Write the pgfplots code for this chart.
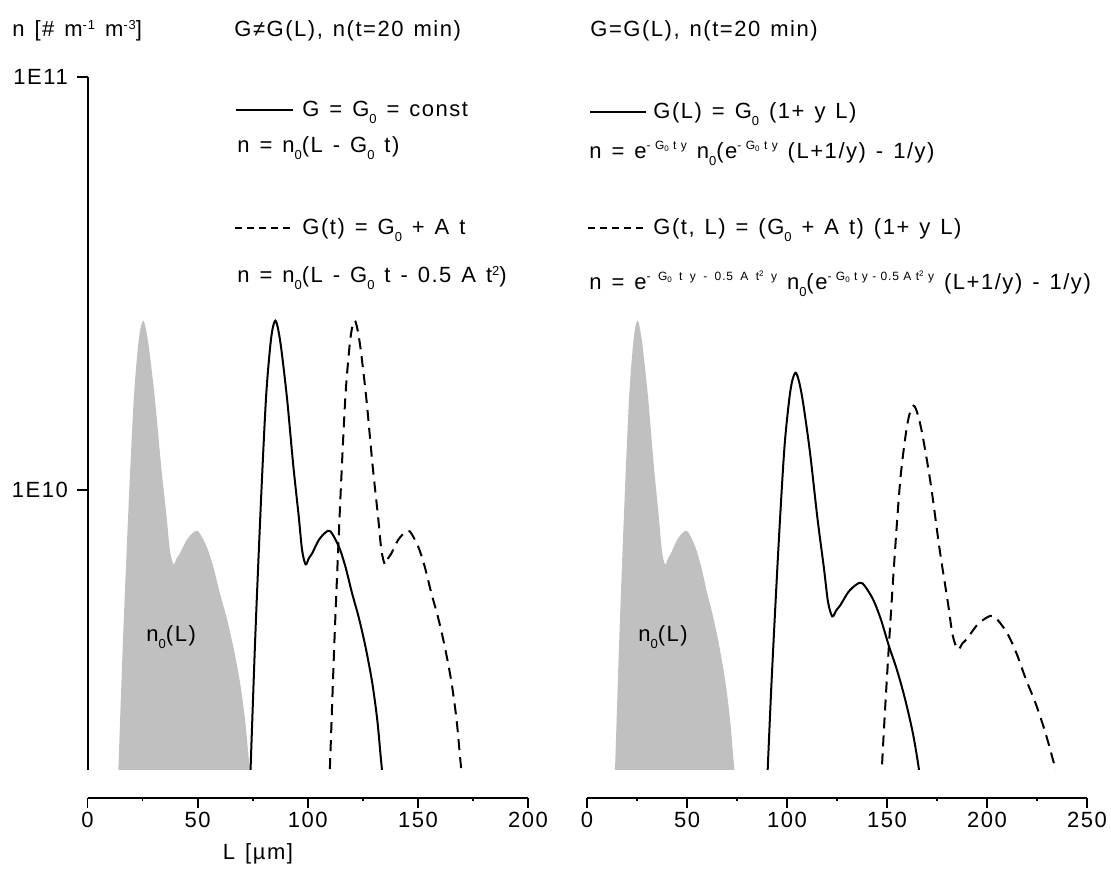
\documentclass[border=0pt]{standalone}
\usepackage{fontspec}
\setmainfont{Liberation Sans}[LetterSpace=7, WordSpace=1.3]
\usepackage{pgfplots}
\pgfplotsset{compat=1.18}
\usepackage{pgfplotstable}

\definecolor{nzero}{RGB}{192,192,192}

\newcommand\tf{\fontsize{11}{13}\selectfont}
\newcommand\sub[1]{\raisebox{-3.2pt}{\fontsize{6.5}{7}\selectfont #1}}
\newcommand\sups[1]{\raisebox{3.6pt}{\fontsize{6.5}{7}\selectfont #1}}
\newcommand\ex[1]{\raisebox{4.6pt}{\fontsize{6}{7}\selectfont #1}}
\newcommand\exsub[1]{\raisebox{-1.1pt}{\fontsize{4}{5}\selectfont #1}}
\newcommand\exsup[1]{\raisebox{2.3pt}{\fontsize{4}{5}\selectfont #1}}
\newcommand\g{\hspace{2.2pt}}
\newcommand\G{\hspace{3.7pt}}

% initial distribution n0(L)
\pgfplotstableread{
L n
12.8 1.413e9
14.0 2.099e9
16.2 4.467e9
18.8 9.550e9
21.0 1.660e10
22.8 2.188e10
24.0 2.455e10
25.3 2.570e10
26.5 2.455e10
28.0 2.188e10
30.6 1.660e10
33.4 1.148e10
35.9 8.610e9
37.4 7.161e9
39.0 6.607e9
40.5 6.839e9
42.0 7.031e9
45.0 7.568e9
48.0 7.889e9
50.3 7.943e9
54.1 7.295e9
57.1 6.516e9
60.1 5.623e9
63.2 4.898e9
66.2 4.169e9
69.2 3.428e9
71.5 2.786e9
73.0 2.291e9
74.2 1.950e9
75.3 1.585e9
}\initial

% G = G0 = const, t = 20 min
\pgfplotstableread{
L n
72.8 1.413e9
74.0 2.099e9
76.2 4.467e9
78.8 9.550e9
81.0 1.660e10
82.8 2.188e10
84.0 2.455e10
85.3 2.570e10
86.5 2.455e10
88.0 2.188e10
90.6 1.660e10
93.4 1.148e10
95.9 8.610e9
97.4 7.161e9
99.0 6.607e9
100.5 6.839e9
102.0 7.031e9
105.0 7.568e9
108.0 7.889e9
110.3 7.943e9
114.1 7.295e9
117.1 6.516e9
120.1 5.623e9
123.2 4.898e9
126.2 4.169e9
129.2 3.428e9
131.5 2.786e9
133.0 2.291e9
134.2 1.950e9
135.3 1.585e9
}\constG

% G(t) = G0 + A t, t = 20 min
\pgfplotstableread{
L n
108.8 1.413e9
110.0 2.099e9
112.2 4.467e9
114.8 9.550e9
117.0 1.660e10
118.8 2.188e10
120.0 2.455e10
121.3 2.570e10
122.5 2.455e10
124.0 2.188e10
126.6 1.660e10
129.4 1.148e10
131.9 8.610e9
133.4 7.161e9
135.0 6.607e9
136.5 6.839e9
138.0 7.031e9
141.0 7.568e9
144.0 7.889e9
146.3 7.943e9
150.1 7.295e9
153.1 6.516e9
156.1 5.623e9
159.2 4.898e9
162.2 4.169e9
165.2 3.428e9
167.5 2.786e9
169.0 2.291e9
170.2 1.950e9
171.3 1.585e9
}\timeG

% G(L) = G0 (1 + y L), t = 20 min
\pgfplotstableread{
L n
87.61 1.057e9
89.22 1.570e9
92.16 3.342e9
95.64 7.145e9
98.58 1.242e10
100.98 1.637e10
102.59 1.837e10
104.33 1.923e10
105.93 1.837e10
107.94 1.637e10
111.41 1.242e10
115.16 8.590e9
118.50 6.442e9
120.50 5.358e9
122.64 4.943e9
124.65 5.117e9
126.65 5.260e9
130.67 5.662e9
134.68 5.902e9
137.75 5.943e9
142.83 5.458e9
146.84 4.875e9
150.85 4.207e9
155.00 3.664e9
159.01 3.119e9
163.02 2.564e9
166.10 2.084e9
168.10 1.714e9
169.71 1.459e9
171.18 1.186e9
}\sizeG

% G(t,L) = (G0 + A t)(1 + y L), t = 20 min
\pgfplotstableread{
L n
143.27 8.79e8
145.20 1.306e9
148.73 2.780e9
152.91 5.943e9
156.45 1.033e10
159.34 1.361e10
161.27 1.528e10
163.36 1.600e10
165.29 1.528e10
167.70 1.361e10
171.87 1.033e10
176.37 7.145e9
180.39 5.358e9
182.80 4.457e9
185.37 4.111e9
187.78 4.256e9
190.19 4.375e9
195.02 4.710e9
199.84 4.909e9
203.53 4.943e9
209.64 4.539e9
214.46 4.055e9
219.28 3.499e9
224.26 3.048e9
229.08 2.594e9
233.90 2.133e9
237.60 1.734e9
240.01 1.426e9
241.94 1.213e9
243.71 9.86e8
}\sizetimeG

\tikzset{
  solidcurve/.style={black, line width=1pt, smooth},
  dashcurve/.style={black, line width=1pt, smooth, dash pattern=on 5.5pt off 3.5pt},
  nzerofill/.style={draw=none, fill=nzero, smooth},
}

\begin{document}
\begin{tikzpicture}
\useasboundingbox (0,0) rectangle (555.5pt,434pt);

% left panel: G independent of L
\begin{axis}[scale only axis, anchor=south west, ymode=log,
    ymin=2.1e9, ymax=1e11, height=346.5pt,
    at={(43.75pt,49pt)}, width=220.3pt, xmin=0, xmax=200,
    axis y line*=left, axis x line=none, axis line style={line width=1pt},
    ytick=\empty,
    minor ytick={3e9,4e9,5e9,6e9,7e9,8e9,9e9,2e10,3e10,4e10,5e10,6e10,7e10,8e10,9e10},
    tick align=inside, minor tick length=1.5pt,
    tick style={black, line width=0.9pt},
    extra y ticks={1e10,1e11}, extra y tick labels={1E10,1E11},
    extra y tick style={tick align=outside, major tick length=5.3pt},
    yticklabel style={font=\tf, xshift=-1pt}]
  \addplot[nzerofill] table {\initial};
  \addplot[solidcurve] table {\constG};
  \addplot[dashcurve] table {\timeG};
  \node[font=\tf] at (38,4.4e9) {n\sub{0}(L)};
\end{axis}

% right panel: size-dependent growth
\begin{axis}[scale only axis, anchor=south west, ymode=log,
    ymin=2.1e9, ymax=1e11, height=346.5pt,
    at={(293.5pt,49pt)}, width=250pt, xmin=0, xmax=250, hide axis]
  \addplot[nzerofill] table {\initial};
  \addplot[solidcurve] table {\sizeG};
  \addplot[dashcurve] table {\sizetimeG};
  \node[font=\tf] at (38,4.4e9) {n\sub{0}(L)};
\end{axis}

% offset L axes
\begin{axis}[scale only axis, anchor=south west, height=5pt,
    ymin=0, ymax=1, axis x line*=bottom, axis y line=none,
    tick align=outside, major tick length=5pt, minor tick length=1.4pt,
    tick style={black, line width=0.9pt}, axis line style={line width=1pt},
    xticklabel style={font=\tf, yshift=1.5pt},
    /pgf/number format/assume math mode=true,
    at={(43.75pt,35pt)}, width=220.3pt, xmin=0, xmax=200,
    xtick={0,50,...,200}, minor xtick={25,75,125,175}]
\end{axis}
\begin{axis}[scale only axis, anchor=south west, height=5pt,
    ymin=0, ymax=1, axis x line*=bottom, axis y line=none,
    tick align=outside, major tick length=5pt, minor tick length=1.4pt,
    tick style={black, line width=0.9pt}, axis line style={line width=1pt},
    xticklabel style={font=\tf, yshift=1.5pt},
    /pgf/number format/assume math mode=true,
    at={(293.5pt,35pt)}, width=250pt, xmin=0, xmax=250,
    xtick={0,50,...,250}, minor xtick={25,75,125,175,225}]
\end{axis}

\begin{scope}[x=0.5pt, y=-0.5pt, shift={(0,434pt)}]
  \tikzset{every node/.style={font=\tf, inner sep=0pt}}
  \node[anchor=base west] at (12,37) {n [\# m\sups{-1} m\sups{-3}]};
  \node[anchor=base west] at (234,37) {G≠G(L), n(t=20 min)};
  \node[anchor=base west] at (590,37) {G=G(L), n(t=20 min)};
  \node[anchor=base] at (258,859) {L [µm]};

  % left key
  \draw[line width=1pt] (236,110) -- (293,110);
  \node[anchor=base west] at (302,117) {G = G\sub{0} = const};
  \node[anchor=base west] at (237,153) {n = n\sub{0}(L - G\sub{0} t)};
  \draw[line width=1pt, dash pattern=on 3.6pt off 2.4pt] (235,228) -- (292,228);
  \node[anchor=base west] at (302,235) {G(t) = G\sub{0} + A t};
  \node[anchor=base west] at (237,283) {n = n\sub{0}(L - G\sub{0} t - 0.5 A t\sups{2})};

  % right key
  \draw[line width=1pt] (590,112) -- (646,112);
  \node[anchor=base west] at (653,119) {G(L) = G\sub{0} (1+ y L)};
  \node[anchor=base west] at (589,159) {n = e\ex{-\g G\exsub{0}\g t\g y} n\sub{0}(e\ex{-\g G\exsub{0}\g t\g y} (L+1/y) - 1/y)};
  \draw[line width=1pt, dash pattern=on 3.6pt off 2.4pt] (588,228) -- (643,228);
  \node[anchor=base west] at (653,235) {G(t, L) = (G\sub{0} + A t) (1+ y L)};
  \node[anchor=base west] at (589,290) {n = e\ex{-\G G\exsub{0}\G t\G y\G -\G 0.5\G A\G t\exsup{2}\G y} n\sub{0}(e\ex{-\g G\exsub{0}\g t\g y\g -\g 0.5\g A\g t\exsup{2}\g y} (L+1/y) - 1/y)};
\end{scope}
\end{tikzpicture}
\end{document}
